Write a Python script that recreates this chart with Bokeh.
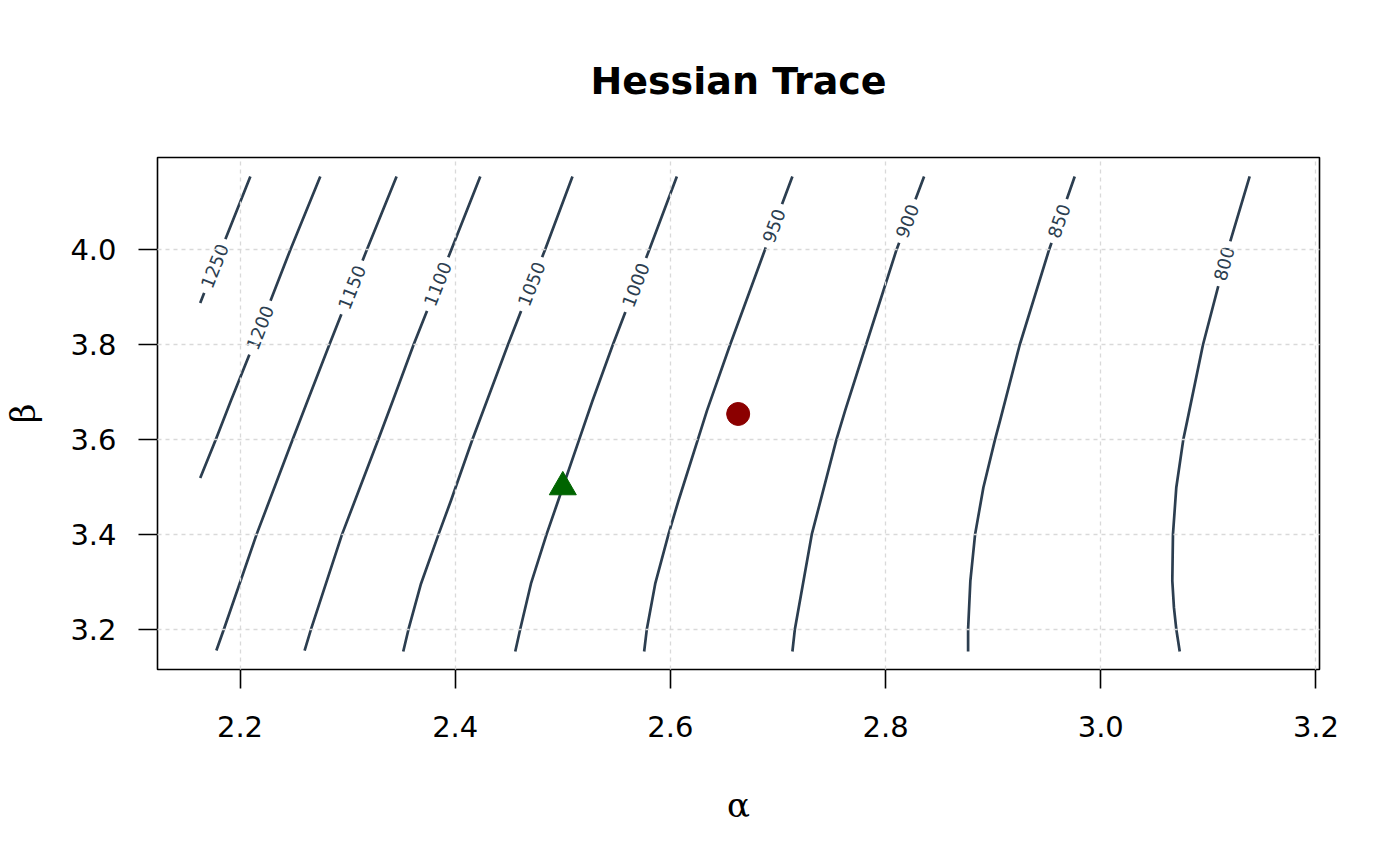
import math
import numpy as np
from bokeh.plotting import figure
from bokeh.models import FixedTicker, Range1d
from bokeh.core.properties import value
from bokeh.embed import file_html
from bokeh.resources import INLINE

# ---------------- data ----------------
levels = [1250, 1200, 1150, 1100, 1050, 1000, 950, 900, 850, 800]

c1250_a = [2.2096, 2.1824, 2.1630]
c1250_b = [4.155, 4.000, 3.888]
c1200_a = [2.2746, 2.2467, 2.2124, 2.1915, 2.1775, 2.1630]
c1200_b = [4.155, 4.000, 3.800, 3.682, 3.600, 3.519]
c1150_a = [2.3455, 2.3178, 2.2830, 2.2628, 2.2489, 2.2154, 2.1850, 2.1780]
c1150_b = [4.155, 4.000, 3.800, 3.682, 3.600, 3.400, 3.200, 3.155]
c1100_a = [2.4233, 2.3963, 2.3613, 2.3420, 2.3285, 2.2948, 2.2660, 2.2600]
c1100_b = [4.155, 4.000, 3.800, 3.682, 3.600, 3.400, 3.200, 3.155]
c1050_a = [2.5090, 2.4834, 2.4490, 2.4295, 2.4160, 2.3960, 2.3845, 2.3682, 2.3566, 2.3517]
c1050_b = [4.155, 4.000, 3.800, 3.682, 3.600, 3.471, 3.400, 3.296, 3.200, 3.153]
c1000_a = [2.6060, 2.5803, 2.5465, 2.5276, 2.5152, 2.4957, 2.4849, 2.4704, 2.4604, 2.4558]
c1000_b = [4.155, 4.000, 3.800, 3.682, 3.600, 3.471, 3.400, 3.296, 3.200, 3.153]
c950_a = [2.7134, 2.6878, 2.6555, 2.6340, 2.6255, 2.6075, 2.5982, 2.5859, 2.5781, 2.5756]
c950_b = [4.155, 4.000, 3.800, 3.661, 3.600, 3.471, 3.400, 3.296, 3.200, 3.153]
c900_a = [2.8358, 2.8101, 2.7819, 2.7624, 2.7543, 2.7314, 2.7157, 2.7134]
c900_b = [4.155, 4.000, 3.800, 3.661, 3.600, 3.400, 3.200, 3.153]
c850_a = [2.9758, 2.9519, 2.9247, 2.9064, 2.9017, 2.8909, 2.8832, 2.8788, 2.8767, 2.8767]
c850_b = [4.155, 4.000, 3.800, 3.640, 3.600, 3.499, 3.400, 3.302, 3.200, 3.153]
c800_a = [3.1384, 3.1180, 3.0950, 3.0804, 3.0767, 3.0702, 3.0671, 3.0665, 3.0680, 3.0702, 3.0734]
c800_b = [4.155, 4.000, 3.800, 3.640, 3.600, 3.499, 3.400, 3.302, 3.246, 3.200, 3.153]

# beta at which each contour label sits
label_beta = [3.966, 3.836, 3.921, 3.928, 3.928, 3.926, 4.051, 4.061, 4.061, 3.971]

mle_point = (2.663, 3.654)      # red dot
start_point = (2.5, 3.5)        # green triangle

x_ticks = [2.2, 2.4, 2.6, 2.8, 3.0, 3.2]
x_tick_labels = ["2.2", "2.4", "2.6", "2.8", "3.0", "3.2"]
y_ticks = [3.2, 3.4, 3.6, 3.8, 4.0]
y_tick_labels = ["3.2", "3.4", "3.6", "3.8", "4.0"]

contours_a = [c1250_a, c1200_a, c1150_a, c1100_a, c1050_a,
              c1000_a, c950_a, c900_a, c850_a, c800_a]
contours_b = [c1250_b, c1200_b, c1150_b, c1100_b, c1050_b,
              c1000_b, c950_b, c900_b, c850_b, c800_b]

# ---------------- figure ----------------
X_RANGE = (2.1233, 3.2033)
Y_RANGE = (3.115, 4.195)
FIG_W, FIG_H = 1384, 850
BL, BT = 149, 157
FRAME_W, FRAME_H = 1170, 512
BR = FIG_W - BL - FRAME_W
BB = FIG_H - BT - FRAME_H

LINE_COL = "#2c3e50"

p = figure(width=FIG_W, height=FIG_H,
           x_range=Range1d(*X_RANGE), y_range=Range1d(*Y_RANGE),
           output_backend="svg", toolbar_location=None,
           min_border_left=BL, min_border_right=BR,
           min_border_top=BT, min_border_bottom=BB,
           title="Hessian Trace")

p.background_fill_color = "white"
p.border_fill_color = "white"
p.outline_line_color = "black"
p.outline_line_width = 1.6

p.title.align = "center"
p.title.text_font = "DejaVu Sans"
p.title.text_font_size = "38px"
p.title.text_font_style = "bold"
p.title.text_color = "black"
p.title.standoff = 109

for ax, ticks, labs in ((p.xaxis[0], x_ticks, x_tick_labels),
                        (p.yaxis[0], y_ticks, y_tick_labels)):
    ax.ticker = FixedTicker(ticks=ticks)
    ax.major_label_overrides = dict(zip(ticks, labs))
    ax.axis_line_color = None
    ax.major_tick_line_color = "black"
    ax.major_tick_line_width = 1.6
    ax.major_tick_out = 19
    ax.major_tick_in = 0
    ax.minor_tick_line_color = None
    ax.major_label_text_font = "DejaVu Sans"
    ax.major_label_text_font_size = "29px"
    ax.major_label_text_color = "black"
    ax.axis_label_text_font = "DejaVu Serif"
    ax.axis_label_text_font_size = "34px"
    ax.axis_label_text_font_style = "normal"
    ax.axis_label_text_color = "black"

p.xaxis.axis_label = "α"
p.yaxis.axis_label = "β"
p.xaxis.major_label_standoff = 27
p.yaxis.major_label_standoff = 22
p.xaxis.axis_label_standoff = 45
p.yaxis.axis_label_standoff = 24

for g in (p.xgrid[0], p.ygrid[0]):
    g.grid_line_color = "#d9d9d9"
    g.grid_line_dash = "4 4"
    g.grid_line_width = 1.3
    g.level = "overlay"
p.xgrid.ticker = FixedTicker(ticks=x_ticks)
p.ygrid.ticker = FixedTicker(ticks=y_ticks)

# contour lines
p.multi_line(xs=contours_a, ys=contours_b, line_color=LINE_COL, line_width=2.7,
             line_join="round")

# contour labels (placed on the line, rotated along it)
sx = FRAME_W / (X_RANGE[1] - X_RANGE[0])
sy = FRAME_H / (Y_RANGE[1] - Y_RANGE[0])
lx, ly, lang, ltxt = [], [], [], []
for lev, a, b, lb in zip(levels, contours_a, contours_b, label_beta):
    a = np.asarray(a)
    b = np.asarray(b)
    ax_ = float(np.interp(lb, b[::-1], a[::-1]))
    i = int(np.searchsorted(-b, -lb))
    i = min(max(i, 1), len(b) - 1)
    da = (a[i - 1] - a[i]) * sx
    db = (b[i - 1] - b[i]) * sy
    ang = math.atan2(db, da)
    lx.append(ax_)
    ly.append(lb)
    lang.append(ang)
    ltxt.append(str(lev))

p.text(x=lx, y=ly, text=ltxt, angle=lang,
       text_font=value("DejaVu Sans"), text_font_size=value("18px"),
       text_color=LINE_COL, text_align="center", text_baseline="middle",
       background_fill_color="white", padding=6)

# points
p.scatter([mle_point[0]], [mle_point[1]], marker="circle", size=23,
          fill_color="#8b0000", line_color="#8b0000")
p.scatter([start_point[0]], [start_point[1]], marker="triangle", size=27,
          fill_color="#006400", line_color="#006400")

open("out.html", "w").write(file_html(p, INLINE))
